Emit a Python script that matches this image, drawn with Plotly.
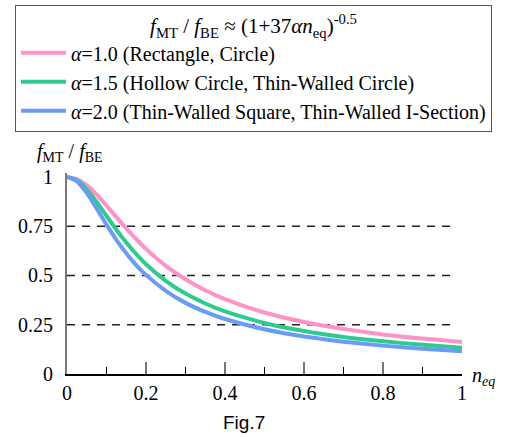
import plotly.graph_objects as go

# n_eq sample points and read-off curve values
n_eq = [0, 0.025, 0.05, 0.075, 0.1, 0.125, 0.15, 0.175, 0.2, 0.25, 0.3, 0.35,
        0.4, 0.5, 0.6, 0.7, 0.8, 0.9, 1.0]
f_a10 = [1.0, 0.989, 0.957, 0.910, 0.854, 0.796, 0.739, 0.685, 0.635, 0.549,
         0.481, 0.425, 0.380, 0.312, 0.264, 0.229, 0.201, 0.180, 0.162]
f_a15 = [1.0, 0.983, 0.937, 0.873, 0.802, 0.732, 0.667, 0.609, 0.557, 0.473,
         0.408, 0.358, 0.318, 0.259, 0.218, 0.188, 0.166, 0.148, 0.133]
f_a20 = [1.0, 0.978, 0.919, 0.840, 0.758, 0.681, 0.613, 0.553, 0.503, 0.422,
         0.361, 0.315, 0.279, 0.227, 0.190, 0.164, 0.144, 0.128, 0.116]

series_names = [
    "<i>α</i>=1.0 (Rectangle, Circle)",
    "<i>α</i>=1.5 (Hollow Circle, Thin-Walled Circle)",
    "<i>α</i>=2.0 (Thin-Walled Square, Thin-Walled I-Section)",
]
series_values = [f_a10, f_a15, f_a20]
series_colors = ["#FF92C9", "#2FCB8E", "#6A9BF8"]

x_ticks = [0, 0.2, 0.4, 0.6, 0.8, 1]
x_ticklabels = ["0", "0.2", "0.4", "0.6", "0.8", "1"]
y_ticks = [0, 0.25, 0.5, 0.75, 1]
y_ticklabels = ["0", "0.25", "0.5", "0.75", "1"]

SERIF = "Liberation Serif, Times New Roman, serif"

W, H = 512, 437
L, R, T, B = 67, 50, 173, 63
PW, PH = W - L - R, H - T - B


def px_to_paper(px, py):
    return (px - L) / PW, (H - B - py) / PH


fig = go.Figure()
for name, vals, col in zip(series_names, series_values, series_colors):
    fig.add_trace(go.Scatter(
        x=n_eq, y=vals, mode="lines", name=name,
        line=dict(color=col, width=4, shape="spline", smoothing=0.6),
    ))

# dashed reference lines
for yv in [0.25, 0.5, 0.75]:
    fig.add_shape(type="line", xref="x", yref="y", x0=0, x1=0.98, y0=yv, y1=yv,
                  line=dict(color="#222222", width=1.5, dash="8px,7px"), layer="below")

lx, ly = px_to_paper(15, 5)
fig.update_layout(
    width=W, height=H,
    margin=dict(l=L, r=R, t=T, b=B, autoexpand=False),
    paper_bgcolor="white", plot_bgcolor="white",
    font=dict(family=SERIF, size=20, color="black"),
    showlegend=True,
    legend=dict(
        x=lx, y=ly, xanchor="left", yanchor="top",
        bordercolor="#555555", borderwidth=1, bgcolor="white",
        font=dict(family=SERIF, size=20, color="black"),
        title=dict(
            text="<i>f</i><sub>MT</sub> / <i>f</i><sub>BE</sub> ≈ (1+37<i>αn</i><sub>eq</sub>)<sup>-0.5</sup>",
            side="top center",
            font=dict(family=SERIF, size=21, color="black"),
        ),
        itemwidth=45,
        tracegroupgap=0,
    ),
    xaxis=dict(
        range=[0, 1], showgrid=False, zeroline=False,
        showline=True, linecolor="black", linewidth=1.5,
        tickvals=x_ticks, ticktext=x_ticklabels,
        ticks="inside", ticklen=12, tickwidth=1.5, tickcolor="#777777",
        minor=dict(dtick=0.1, ticks="inside", ticklen=7, tickwidth=1.2, tickcolor="black"),
        tickfont=dict(family=SERIF, size=20),
    ),
    yaxis=dict(
        range=[0, 1.02], showgrid=False, zeroline=False,
        showline=True, linecolor="#777777", linewidth=2,
        tickvals=y_ticks, ticktext=y_ticklabels,
        ticks="", ticklabelstandoff=8,
        tickfont=dict(family=SERIF, size=20),
    ),
)

ax, ay = px_to_paper(70, 152)
fig.add_annotation(
    text="<i>f</i><sub>MT</sub> / <i>f</i><sub>BE</sub>",
    xref="paper", yref="paper", x=ax, y=ay, xanchor="center", yanchor="middle",
    showarrow=False, font=dict(family=SERIF, size=20),
)
nx, ny = px_to_paper(470, 376)
fig.add_annotation(
    text="<i>n<sub>eq</sub></i>",
    xref="paper", yref="paper", x=nx, y=ny, xanchor="left", yanchor="middle",
    showarrow=False, font=dict(family=SERIF, size=20),
)
fx, fy = px_to_paper(244, 422)
fig.add_annotation(
    text="Fig.7",
    xref="paper", yref="paper", x=fx, y=fy,
    xanchor="center", yanchor="middle",
    showarrow=False, font=dict(family="Liberation Sans, Arial, sans-serif", size=19),
)

fig.write_html("out.html", config={"displayModeBar": False},
               post_script="document.body.style.margin='0';")
